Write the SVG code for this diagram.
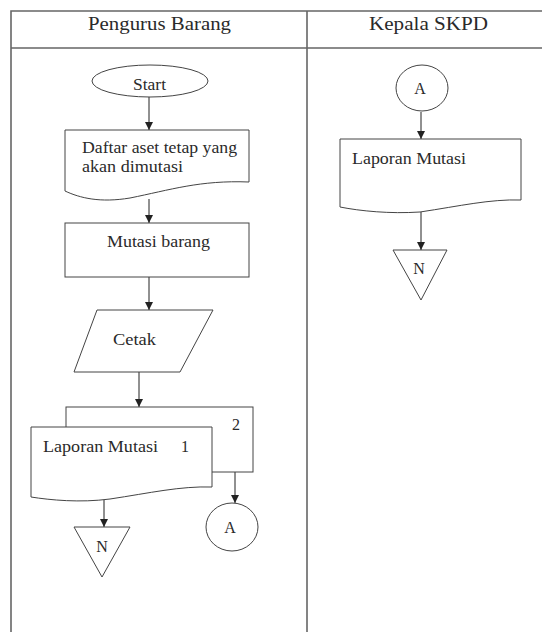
<svg xmlns="http://www.w3.org/2000/svg" width="542" height="632" viewBox="0 0 542 632" font-family="'Liberation Serif', 'DejaVu Serif', serif">
<defs>
<style>
.tbl{stroke:#666;stroke-width:1.6;fill:none}
.sh{fill:#fff;stroke:#444;stroke-width:1}
.ln{stroke:#222;stroke-width:1;fill:none}
text{fill:#2a2a2a;font-size:16px}
.hd{font-size:18px}
.c{text-anchor:middle}
</style>
<marker id="ar" viewBox="0 0 10 10" refX="10" refY="5" markerWidth="8" markerHeight="8" markerUnits="userSpaceOnUse" orient="auto">
<path d="M0,0 L10,5 L0,10 z" fill="#222"/>
</marker>
</defs>
<rect width="542" height="632" fill="#fff"/>
<g id="table">
<path class="tbl" d="M11,632 V11 H542 M11,48 H542 M307,11 V632"/>
<text class="hd" x="88" y="30" textLength="143" lengthAdjust="spacingAndGlyphs">Pengurus Barang</text>
<text class="hd" x="369" y="30" textLength="119" lengthAdjust="spacingAndGlyphs">Kepala SKPD</text>
</g>
<g id="connectors">
<line class="ln" x1="149" y1="97" x2="149" y2="130" marker-end="url(#ar)"/>
<line class="ln" x1="149" y1="199" x2="149" y2="223" marker-end="url(#ar)"/>
<line class="ln" x1="149" y1="277" x2="149" y2="310" marker-end="url(#ar)"/>
<line class="ln" x1="139" y1="372" x2="139" y2="407" marker-end="url(#ar)"/>
<line class="ln" x1="104" y1="500" x2="104" y2="527" marker-end="url(#ar)"/>
<line class="ln" x1="235" y1="472" x2="235" y2="503" marker-end="url(#ar)"/>
<line class="ln" x1="421" y1="112" x2="421" y2="139" marker-end="url(#ar)"/>
<line class="ln" x1="421" y1="212" x2="421" y2="250" marker-end="url(#ar)"/>
</g>
<g id="start">
<ellipse class="sh" cx="150" cy="81" rx="58" ry="16"/>
<text x="133" y="90" textLength="33" lengthAdjust="spacingAndGlyphs">Start</text>
</g>
<g id="daftar">
<path class="sh" d="M65,130 H249 V182 C200,180 170,190 130,198 C100,203 80,198 65,191 Z"/>
<text x="82" y="153" textLength="155" lengthAdjust="spacingAndGlyphs">Daftar aset tetap yang</text>
<text x="82" y="172" textLength="101" lengthAdjust="spacingAndGlyphs">akan dimutasi</text>
</g>
<g id="mutasi">
<rect class="sh" x="65" y="223" width="184" height="54"/>
<text x="107" y="247" textLength="103" lengthAdjust="spacingAndGlyphs">Mutasi barang</text>
</g>
<g id="cetak">
<path class="sh" d="M97,310 H213 L180,372 H74 Z"/>
<text x="113" y="345" textLength="43" lengthAdjust="spacingAndGlyphs">Cetak</text>
</g>
<g id="laporan2">
<rect class="sh" x="66" y="407" width="187" height="65"/>
<text x="232" y="430">2</text>
</g>
<g id="laporan1">
<path class="sh" d="M31,427 H212 V487 C180,486 150,493 110,499 C80,503 50,500 31,497 Z"/>
<text x="43" y="452" textLength="115" lengthAdjust="spacingAndGlyphs">Laporan Mutasi</text>
<text x="181" y="452">1</text>
</g>
<g id="n1">
<path class="sh" d="M74,527 H130 L102,577 Z"/>
<text class="c" x="102" y="552">N</text>
</g>
<g id="a1">
<ellipse class="sh" cx="232" cy="527" rx="26" ry="24"/>
<text class="c" x="230" y="533">A</text>
</g>
<g id="a2">
<ellipse class="sh" cx="422" cy="88" rx="26" ry="23"/>
<text class="c" x="420" y="94">A</text>
</g>
<g id="laporan3">
<path class="sh" d="M340,139 H521 V200 C490,199 460,206 420,212 C390,214 360,211 340,207 Z"/>
<text x="352" y="164" textLength="114" lengthAdjust="spacingAndGlyphs">Laporan Mutasi</text>
</g>
<g id="n2">
<path class="sh" d="M393,250 H447 L421,300 Z"/>
<text class="c" x="419" y="274">N</text>
</g>
</svg>
